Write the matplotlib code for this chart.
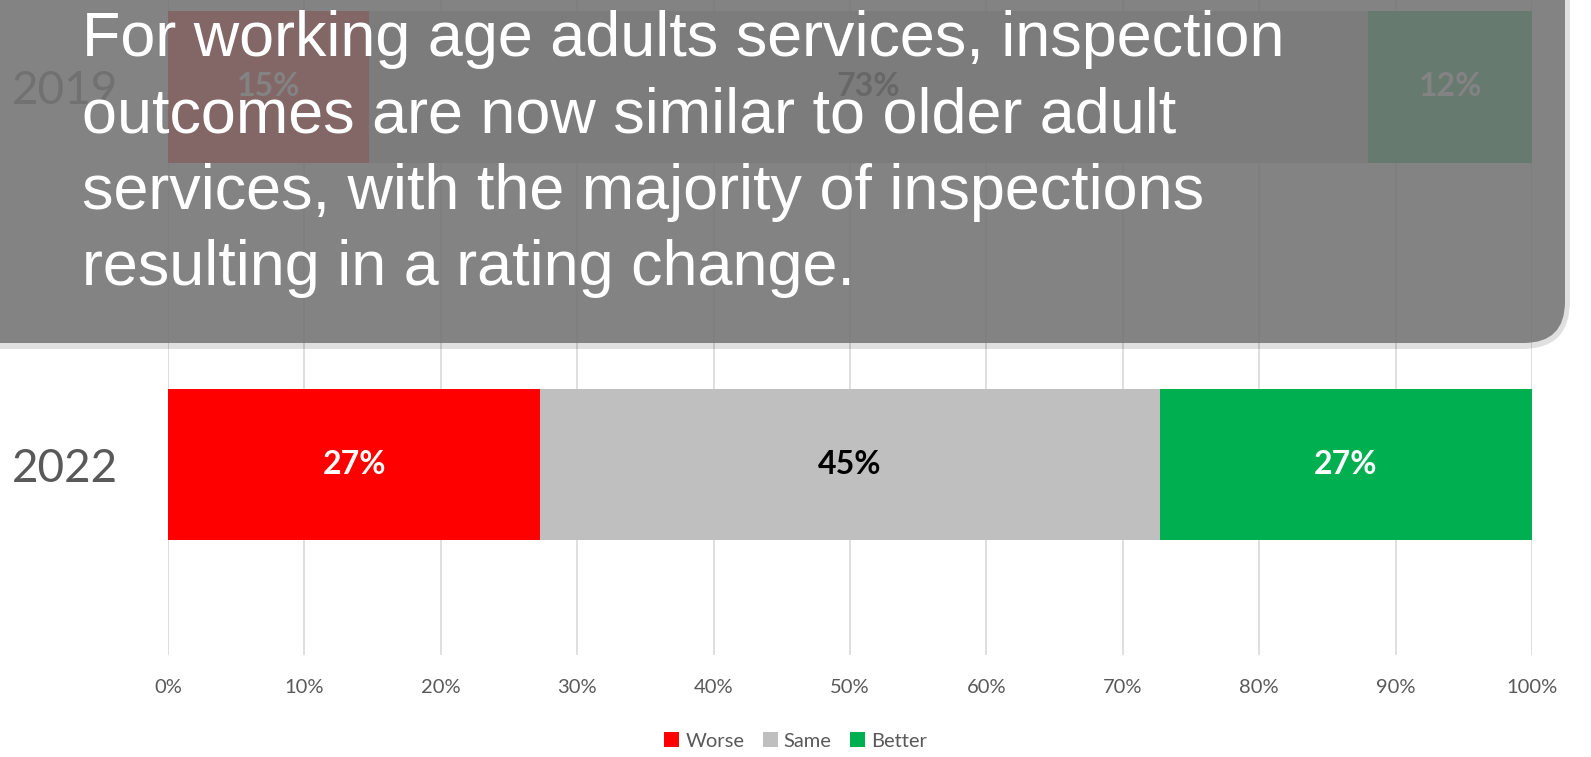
import matplotlib.pyplot as plt
from matplotlib.patches import FancyBboxPatch

years = ['2022', '2019']
worse = [27.3, 14.7]
same = [45.4, 73.3]
better = [27.3, 12.0]
series_names = ['Worse', 'Same', 'Better']
series_colors = ['#ff0000', '#bfbfbf', '#00b050']
label_colors = ['white', 'black', 'white']
ticks = list(range(0, 101, 10))
headline = ("For working age adults services, inspection\n"
            "outcomes are now similar to older adult\n"
            "services, with the majority of inspections\n"
            "resulting in a rating change.")

W, H = 1591, 757
fig = plt.figure(figsize=(W / 100, H / 100), dpi=100)
plt.rcParams['font.family'] = ['Lato', 'DejaVu Sans']

# axes spans 0%..100% in x, and from the grid bottom up to the top of the figure
ax = fig.add_axes([168 / W, (H - 655) / H, 1364 / W, 655 / H])

pos = [0, 1]
left = [0, 0]
for name, vals, col, lc in zip(series_names, [worse, same, better], series_colors, label_colors):
    bars = ax.barh(pos, vals, left=left, height=0.4, color=col, label=name, zorder=2)
    for b, v in zip(bars, vals):
        ax.text(b.get_x() + b.get_width() / 2, b.get_y() + b.get_height() / 2,
                '%d%%' % round(v), ha='center', va='center', color=lc,
                fontsize=23, fontweight='bold', zorder=3)
    left = [l + v for l, v in zip(left, vals)]

ax.set_xlim(0, 100)
ax.set_ylim(-0.503, 1.23)
ax.set_xticks(ticks)
ax.set_xticklabels(['%d%%' % t for t in ticks])
ax.set_yticks(pos)
ax.set_yticklabels(years)
ax.tick_params(axis='x', length=0, labelsize=14.5, labelcolor='#595959', pad=17)
ax.tick_params(axis='y', length=0, labelsize=33, labelcolor='#595959', pad=36)
ax.grid(axis='x', color='#d9d9d9', linewidth=1.2, zorder=0)
ax.set_axisbelow(True)
for s in ax.spines.values():
    s.set_visible(False)

fig.legend(loc='center', bbox_to_anchor=(0.5, (H - 741) / H), ncol=3, frameon=False,
           fontsize=14.5, handlelength=0.75, handleheight=0.75, handletextpad=0.3,
           columnspacing=0.9, labelcolor='#595959')

# overlay box with shadow
shadow = FancyBboxPatch((-60 / W, (H - 349) / H), 1630 / W, 460 / H,
                        boxstyle='round,pad=0,rounding_size=0.03',
                        transform=fig.transFigure, facecolor='#000000', alpha=0.12,
                        edgecolor='none', zorder=4, mutation_aspect=W / H)
fig.patches.append(shadow)
box = FancyBboxPatch((-60 / W, (H - 343) / H), 1625 / W, 460 / H,
                     boxstyle='round,pad=0,rounding_size=0.026',
                     transform=fig.transFigure, facecolor='#767676', alpha=0.88,
                     edgecolor='none', zorder=5, mutation_aspect=W / H)
fig.patches.append(box)
fig.text(82 / W, (H - 10) / H, headline, ha='left', va='top', color='white',
         fontsize=45.3, family=['Liberation Sans', 'DejaVu Sans'], linespacing=1.38, zorder=6)

fig.savefig('out.png', dpi=100)
